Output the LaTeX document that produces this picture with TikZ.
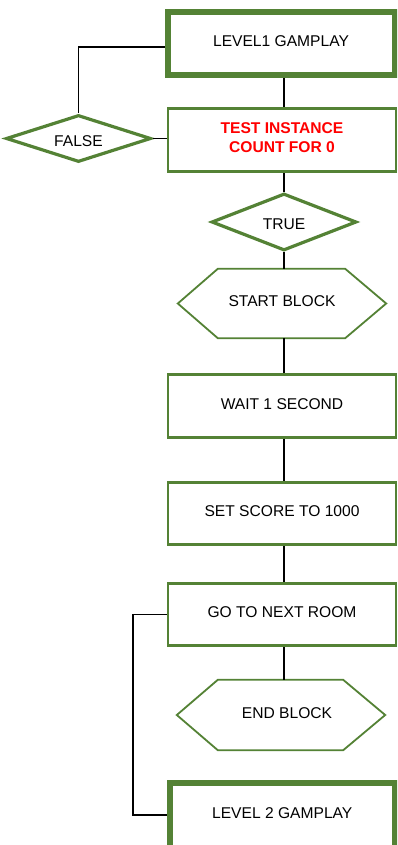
\documentclass[tikz,border=0pt]{standalone}
\usepackage{fontspec}
\setmainfont{Liberation Sans}
\usetikzlibrary{shapes.geometric}
\definecolor{boxgreen}{RGB}{84,130,53}
\definecolor{alertred}{RGB}{255,0,0}

\begin{document}
\begin{tikzpicture}[x=1pt,y=-1pt,
  every node/.style={font=\fontsize{15.6}{18.5}\selectfont, align=center},
  procbox/.style={draw=boxgreen, line width=2.6pt, rectangle, minimum width=228pt, minimum height=62.5pt, inner sep=0pt, text depth=4.5pt},
  levelbox/.style={draw=boxgreen, line width=6pt, rectangle, inner sep=0pt, text depth=4.5pt},
  decision/.style={draw=boxgreen, line width=3.2pt, diamond, shape aspect=3, minimum width=145pt, inner sep=0pt, text height=16pt},
  blockarea/.style={rectangle, minimum width=208pt, minimum height=69pt, inner sep=0pt, text depth=4pt},
  hexline/.style={draw=boxgreen, line width=1.8pt, line join=miter},
  link/.style={draw=black, line width=1.8pt}
]
\useasboundingbox (0,0) rectangle (397,845);
\clip (0,0) rectangle (397,845);
\fill[white] (0,0) rectangle (397,845);

% x position of the main vertical flow line
\coordinate (trunk) at (284,0);

% boxes and decisions
\node[levelbox, minimum width=227pt, minimum height=63.5pt] (lvlone) at (281,43.75) {LEVEL1 GAMPLAY};
\node[procbox, minimum height=63.5pt, text=alertred, font=\fontsize{15.6}{18.5}\selectfont\bfseries] (test) at (282,140) {TEST INSTANCE\\COUNT FOR 0};
\node[decision, minimum height=47pt] (falsed) at (78.5,138.5) {FALSE};
\node[decision, minimum height=57pt] (trued) at (284,222) {TRUE};
\node[blockarea] (startb) at (282,303.5) {START BLOCK};
\node[procbox] (wait) at (282,406) {WAIT 1 SECOND};
\node[procbox] (score) at (282,513.5) {SET SCORE TO 1000};
\node[procbox] (goroom) at (282,614.5) {GO TO NEXT ROOM};
\node[blockarea, minimum height=70pt] (endb) at (281,715) {\hspace*{12pt}END BLOCK};
\node[levelbox, minimum width=225.5pt, minimum height=65.5pt] (lvltwo) at (282.25,815.25) {LEVEL 2 GAMPLAY};

% hexagonal block markers
\draw[hexline] (startb.west) -- ([xshift=40pt]startb.north west) -- ([xshift=-41pt]startb.north east)
  -- (startb.east) -- ([xshift=-41pt]startb.south east) -- ([xshift=40pt]startb.south west) -- cycle;
\draw[hexline] (endb.west) -- ([xshift=41pt]endb.north west) -- ([xshift=-42pt]endb.north east)
  -- (endb.east) -- ([xshift=-42pt]endb.south east) -- ([xshift=41pt]endb.south west) -- cycle;

% main flow
\draw[link] (lvlone.south -| trunk) -- (test.north -| trunk);
\draw[link] (test.south -| trunk) -- (trued.north);
\draw[link] (trued.south) -- (startb.north -| trunk);
\draw[link] (startb.south -| trunk) -- (wait.north -| trunk);
\draw[link] (wait.south -| trunk) -- (score.north -| trunk);
\draw[link] (score.south -| trunk) -- (goroom.north -| trunk);
\draw[link] (goroom.south -| trunk) -- (endb.north -| trunk);

% false branch back to level 1
\draw[link] ([yshift=-3pt]lvlone.west) -| (falsed.north);
\draw[link] (falsed.east) -- (falsed.east -| test.west);

% jump to level 2
\draw[link] (goroom.west) -- ++(-34,0) |- (lvltwo.west);
\end{tikzpicture}
\end{document}
